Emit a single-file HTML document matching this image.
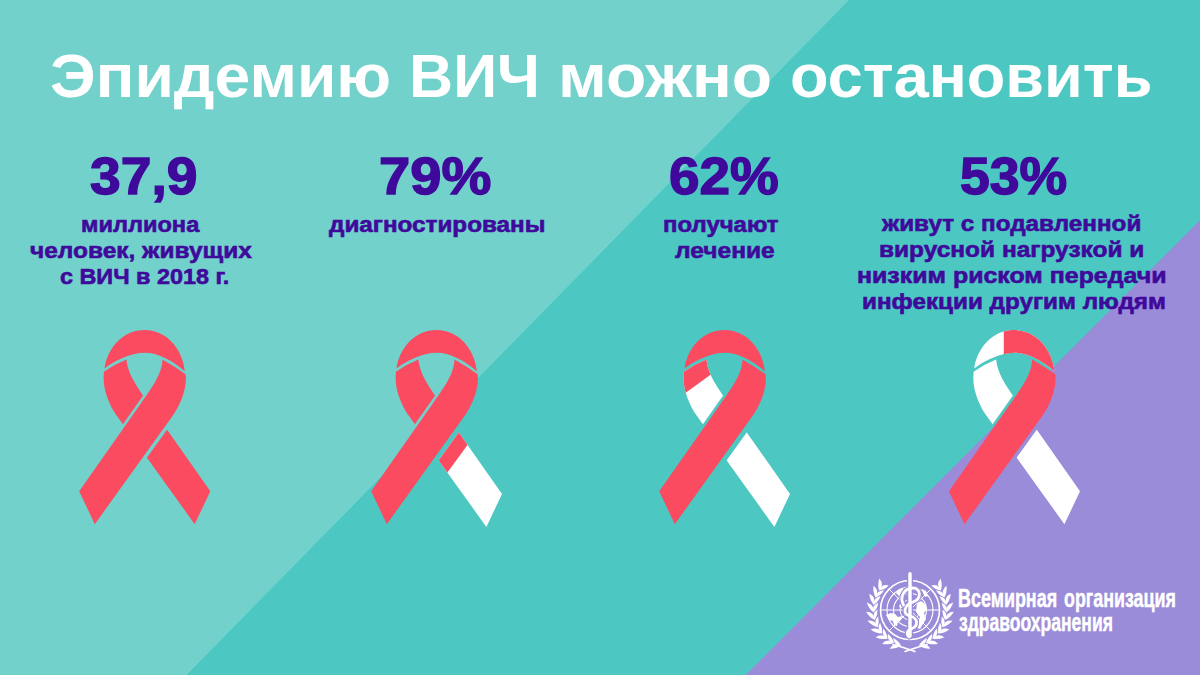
<!DOCTYPE html>
<html lang="ru">
<head>
<meta charset="utf-8">
<title>Эпидемию ВИЧ можно остановить</title>
<style>
html,body{margin:0;padding:0}
body{width:1200px;height:675px;overflow:hidden;position:relative;background:#4dc7c2;font-family:"Liberation Sans",sans-serif}
#art{position:absolute;left:0;top:0;width:1200px;height:675px;display:block}
.t{position:absolute;white-space:pre;line-height:1;font-weight:700;transform-origin:0 0;color:#3f0a9b;font-family:"Liberation Sans",sans-serif}
</style>
</head>
<body>
<svg id="art" viewBox="0 0 1200 675" width="1200" height="675">
<defs>
<path id="cap" d="M104.5,368.4 C107.5,348 122.7,330.1 144.8,330.1 C166.85,330.1 182.8,349.8 184.8,371.3 C172,360.4 158,352.8 144.8,352.8 C131,352.8 116,360 104.5,368.4 Z"/>
<path id="strand" d="M162.5,359.5 Q174.5,366.3 185.6,374.3 L185.9,378 C185.9,392 179.5,406.2 172.5,416 L94.8,524.2 L79.2,491.3 L138,407.5 C154,385 161.5,374 162.5,359.7 Z"/>
<path id="strandB" d="M163.1,359.5 Q175,364.2 185.6,371.8 L185.9,378 C185.9,392 179.5,406.2 172.5,416 L94.8,524.2 L79.2,491.3 L138,407.5 C154,385 161.5,374 163.1,359.5 Z"/>
<clipPath id="clipUp"><polygon points="48.03,530.53 220.83,285.13 0,285 0,531"/></clipPath>
<clipPath id="clipLow"><polygon points="86.13,542.03 214.72,363.52 260,362 260,543"/></clipPath>
<g id="backup" clip-path="url(#clipUp)"><use href="#strandB" transform="translate(289.5,0) scale(-1,1)"/></g>
<g id="backlow" clip-path="url(#clipLow)"><use href="#strandB" transform="translate(289.5,0) scale(-1,1)"/></g>
</defs>
<rect width="1200" height="675" fill="#4dc7c2"/>
<polygon points="0,0 848,0 185.6,675 0,675" fill="#73d1cc"/>
<line x1="848.4" y1="0" x2="186" y2="675" stroke="#86ddd8" stroke-width="1" opacity="0.7"/>
<polygon points="1200,220.3 1200,675 745.7,675" fill="#9b8cd9"/>
<!-- ribbon 1: 100% -->
<g fill="#fa4b60"><use href="#cap"/><use href="#backup"/><use href="#backlow"/><use href="#strand"/></g>
<!-- ribbon 2: 79% -->
<g transform="translate(292,0)">
  <g fill="#fa4b60"><use href="#cap"/><use href="#backup"/><use href="#strand"/></g>
  <g transform="translate(-0.3,2.7)">
    <use href="#backlow" fill="#fff"/>
    <clipPath id="c2"><polygon points="140,420 170,420 180,436.5 150,477.5 140,477"/></clipPath>
    <g clip-path="url(#c2)"><use href="#backlow" fill="#fa4b60"/></g>
  </g>
</g>
<!-- ribbon 3: 62% -->
<g transform="translate(580,0)">
  <g fill="#fa4b60"><use href="#cap"/><use href="#strand"/></g>
  <use href="#backup" fill="#fff"/>
  <clipPath id="c3"><polygon points="95,350 135,350 135,371.5 95,400.5"/></clipPath>
  <g clip-path="url(#c3)"><use href="#backup" fill="#fa4b60"/></g>
  <g transform="translate(-0.3,2.7)"><use href="#backlow" fill="#fff"/></g>
</g>
<!-- ribbon 4: 53% -->
<g transform="translate(869.7,0)">
  <use href="#cap" fill="#fff"/>
  <clipPath id="c4"><rect x="134.1" y="320" width="60" height="60"/></clipPath>
  <use href="#cap" fill="#fa4b60" clip-path="url(#c4)"/>
  <use href="#backup" fill="#fff"/><use href="#backlow" fill="#fff"/>
  <use href="#strand" fill="#fa4b60"/>
</g>
<!--WHO-->
<g id="who" fill="none" stroke="#fff">
<circle cx="910.0" cy="610.0" r="29.5" stroke-width="1.6"/>
<circle cx="910.0" cy="610.0" r="23" stroke-width="1.1"/>
<circle cx="910.0" cy="610.0" r="16.5" stroke-width="1.1"/>
<circle cx="910.0" cy="610.0" r="10" stroke-width="1.0"/>
<line x1="880.5" y1="610.0" x2="939.5" y2="610.0" stroke-width="1.0"/>
<line x1="889.1" y1="589.1" x2="930.9" y2="630.9" stroke-width="1.0"/>
<line x1="910.0" y1="580.5" x2="910.0" y2="639.5" stroke-width="1.0"/>
<line x1="930.9" y1="589.1" x2="889.1" y2="630.9" stroke-width="1.0"/>
<g fill="#fff" stroke="none">
<path d="M886.0,615.0 L891.0,613.0 L895.0,614.0 L898.0,617.0 L902.0,616.0 L901.0,620.0 L898.0,622.0 L897.0,626.0 L894.0,625.0 L893.0,621.0 L889.0,620.0 Z"/>
<path d="M917.0,603.0 L921.0,601.0 L925.0,604.0 L927.0,609.0 L924.0,613.0 L926.0,619.0 L923.0,624.0 L920.0,629.0 L917.0,628.0 L918.0,622.0 L920.0,617.0 L916.0,612.0 Z"/>
<path d="M898.0,590.0 L902.0,588.0 L905.0,591.0 L903.0,595.0 L899.0,596.0 L896.0,593.0 Z"/>
<path d="M922.0,589.0 L926.0,591.0 L928.0,596.0 L925.0,597.0 L923.0,593.0 Z"/>
<path d="M900.0,604.0 L904.0,603.0 L905.0,607.0 L902.0,608.0 L899.0,607.0 Z"/>
</g>
<path d="M910.0,573.8 L910.0,636.0" stroke="#9b8cd9" stroke-width="6" stroke-linecap="round"/>
<path d="M903.5,605.0 C899.0,596.0 905.0,588.0 913.0,588.0 C921.0,588.0 922.0,599.0 913.0,602.0 C904.0,605.0 902.0,614.0 910.0,616.0 C918.0,618.0 919.0,626.0 911.0,629.0 C907.0,630.5 906.0,634.0 909.0,637.0" stroke="#9b8cd9" stroke-width="5.2" stroke-linecap="round"/>
<path d="M910.0,573.8 L910.0,636.0" stroke="#fff" stroke-width="3.4" stroke-linecap="round"/>
<path d="M903.5,605.0 C899.0,596.0 905.0,588.0 913.0,588.0 C921.0,588.0 922.0,599.0 913.0,602.0 C904.0,605.0 902.0,614.0 910.0,616.0 C918.0,618.0 919.0,626.0 911.0,629.0 C907.0,630.5 906.0,634.0 909.0,637.0" stroke="#fff" stroke-width="2.8" stroke-linecap="round"/>
<g fill="#fff" stroke="none">
<path d="M901.1,645.5 Q893.9,642.0 889.6,648.8 Q895.9,649.0 901.1,645.5 Z"/>
<path d="M901.1,645.5 Q893.7,645.3 893.2,637.9 Q898.4,640.4 901.1,645.5 Z"/>
<path d="M894.0,642.9 Q887.6,637.9 882.0,643.7 Q888.1,645.2 894.0,642.9 Z"/>
<path d="M894.0,642.9 Q886.7,641.1 887.8,633.8 Q892.3,637.4 894.0,642.9 Z"/>
<path d="M887.5,638.8 Q882.3,632.7 875.6,637.2 Q881.3,639.9 887.5,638.8 Z"/>
<path d="M887.5,638.8 Q880.8,635.6 883.3,628.6 Q887.0,633.1 887.5,638.8 Z"/>
<path d="M882.0,633.5 Q878.2,626.4 870.7,629.4 Q875.7,633.2 882.0,633.5 Z"/>
<path d="M882.0,633.5 Q876.1,629.0 880.1,622.7 Q882.7,627.8 882.0,633.5 Z"/>
<path d="M877.7,627.2 Q875.5,619.4 867.5,620.8 Q871.6,625.6 877.7,627.2 Z"/>
<path d="M877.7,627.2 Q872.9,621.5 878.1,616.2 Q879.6,621.7 877.7,627.2 Z"/>
<path d="M874.8,620.1 Q874.3,612.0 866.2,611.8 Q869.2,617.3 874.8,620.1 Z"/>
<path d="M874.8,620.1 Q871.3,613.5 877.5,609.4 Q877.8,615.2 874.8,620.1 Z"/>
<path d="M873.5,612.6 Q874.6,604.6 866.8,602.6 Q868.6,608.6 873.5,612.6 Z"/>
<path d="M873.5,612.6 Q871.4,605.4 878.3,602.7 Q877.5,608.4 873.5,612.6 Z"/>
<path d="M873.8,604.9 Q876.5,597.3 869.3,593.8 Q869.8,600.1 873.8,604.9 Z"/>
<path d="M873.8,604.9 Q873.2,597.5 880.5,596.2 Q878.5,601.6 873.8,604.9 Z"/>
<path d="M875.6,597.5 Q879.9,590.6 873.5,585.7 Q872.7,591.9 875.6,597.5 Z"/>
<path d="M875.6,597.5 Q876.6,590.1 884.0,590.4 Q880.9,595.3 875.6,597.5 Z"/>
<path d="M879.0,590.6 Q884.6,584.8 879.4,578.6 Q877.3,584.5 879.0,590.6 Z"/>
<path d="M879.0,590.6 Q881.5,583.6 888.7,585.4 Q884.6,589.6 879.0,590.6 Z"/>
<path d="M918.9,645.5 Q926.1,642.0 930.4,648.8 Q924.1,649.0 918.9,645.5 Z"/>
<path d="M918.9,645.5 Q926.3,645.3 926.8,637.9 Q921.6,640.4 918.9,645.5 Z"/>
<path d="M926.0,642.9 Q932.4,637.9 938.0,643.7 Q931.9,645.2 926.0,642.9 Z"/>
<path d="M926.0,642.9 Q933.3,641.1 932.2,633.8 Q927.7,637.4 926.0,642.9 Z"/>
<path d="M932.5,638.8 Q937.7,632.7 944.4,637.2 Q938.7,639.9 932.5,638.8 Z"/>
<path d="M932.5,638.8 Q939.2,635.6 936.7,628.6 Q933.0,633.1 932.5,638.8 Z"/>
<path d="M938.0,633.5 Q941.8,626.4 949.3,629.4 Q944.3,633.2 938.0,633.5 Z"/>
<path d="M938.0,633.5 Q943.9,629.0 939.9,622.7 Q937.3,627.8 938.0,633.5 Z"/>
<path d="M942.3,627.2 Q944.5,619.4 952.5,620.8 Q948.4,625.6 942.3,627.2 Z"/>
<path d="M942.3,627.2 Q947.1,621.5 941.9,616.2 Q940.4,621.7 942.3,627.2 Z"/>
<path d="M945.2,620.1 Q945.7,612.0 953.8,611.8 Q950.8,617.3 945.2,620.1 Z"/>
<path d="M945.2,620.1 Q948.7,613.5 942.5,609.4 Q942.2,615.2 945.2,620.1 Z"/>
<path d="M946.5,612.6 Q945.4,604.6 953.2,602.6 Q951.4,608.6 946.5,612.6 Z"/>
<path d="M946.5,612.6 Q948.6,605.4 941.7,602.7 Q942.5,608.4 946.5,612.6 Z"/>
<path d="M946.2,604.9 Q943.5,597.3 950.7,593.8 Q950.2,600.1 946.2,604.9 Z"/>
<path d="M946.2,604.9 Q946.8,597.5 939.5,596.2 Q941.5,601.6 946.2,604.9 Z"/>
<path d="M944.4,597.5 Q940.1,590.6 946.5,585.7 Q947.3,591.9 944.4,597.5 Z"/>
<path d="M944.4,597.5 Q943.4,590.1 936.0,590.4 Q939.1,595.3 944.4,597.5 Z"/>
<path d="M941.0,590.6 Q935.4,584.8 940.6,578.6 Q942.7,584.5 941.0,590.6 Z"/>
<path d="M941.0,590.6 Q938.5,583.6 931.3,585.4 Q935.4,589.6 941.0,590.6 Z"/>
</g>
<path d="M893.0,644.5 Q904.0,647.5 915.0,651.5 M927.0,644.5 Q916.0,647.5 905.0,651.5" stroke-width="1.6" stroke-linecap="round"/>
</g>
<!--/WHO-->
</svg>

<div class="t" style="left:50.38px;top:45.98px;font-size:60.5px;transform:scaleX(1.0607);color:#fff">Эпидемию</div>
<div class="t" style="left:408.96px;top:45.98px;font-size:60.5px;transform:scaleX(1.0102);color:#fff">ВИЧ</div>
<div class="t" style="left:558.14px;top:45.98px;font-size:60.5px;transform:scaleX(1.0895);color:#fff">можно</div>
<div class="t" style="left:790.42px;top:45.98px;font-size:60.5px;transform:scaleX(1.0423);color:#fff">остановить</div>
<div class="t" style="left:90.17px;top:150.85px;font-size:51px;transform:scaleX(1.0825);-webkit-text-stroke:1.4px #3f0a9b">37,9</div>
<div class="t" style="left:81.43px;top:214.20px;font-size:22px;transform:scaleX(1.0727);-webkit-text-stroke:0.6px #3f0a9b">миллиона</div>
<div class="t" style="left:30.14px;top:239.70px;font-size:22px;transform:scaleX(1.1118);-webkit-text-stroke:0.6px #3f0a9b">человек, живущих</div>
<div class="t" style="left:60.19px;top:265.90px;font-size:22px;transform:scaleX(1.0621);-webkit-text-stroke:0.6px #3f0a9b">с ВИЧ в 2018 г.</div>
<div class="t" style="left:379.40px;top:150.85px;font-size:51px;transform:scaleX(1.1000);-webkit-text-stroke:1.4px #3f0a9b">79%</div>
<div class="t" style="left:328.75px;top:214.20px;font-size:22px;transform:scaleX(1.1026);-webkit-text-stroke:0.6px #3f0a9b">диагностированы</div>
<div class="t" style="left:669.42px;top:150.85px;font-size:51px;transform:scaleX(1.0750);-webkit-text-stroke:1.4px #3f0a9b">62%</div>
<div class="t" style="left:663.41px;top:214.20px;font-size:22px;transform:scaleX(1.0881);-webkit-text-stroke:0.6px #3f0a9b">получают</div>
<div class="t" style="left:674.50px;top:239.70px;font-size:22px;transform:scaleX(1.1152);-webkit-text-stroke:0.6px #3f0a9b">лечение</div>
<div class="t" style="left:960.45px;top:150.85px;font-size:51px;transform:scaleX(1.0500);-webkit-text-stroke:1.4px #3f0a9b">53%</div>
<div class="t" style="left:882.00px;top:212.90px;font-size:22px;transform:scaleX(1.1026);-webkit-text-stroke:0.6px #3f0a9b">живут с подавленной</div>
<div class="t" style="left:879.39px;top:238.50px;font-size:22px;transform:scaleX(1.1123);-webkit-text-stroke:0.6px #3f0a9b">вирусной нагрузкой и</div>
<div class="t" style="left:856.87px;top:264.60px;font-size:22px;transform:scaleX(1.1328);-webkit-text-stroke:0.6px #3f0a9b">низким риском передачи</div>
<div class="t" style="left:862.30px;top:290.70px;font-size:22px;transform:scaleX(1.1026);-webkit-text-stroke:0.6px #3f0a9b">инфекции другим людям</div>
<div class="t" style="left:958.31px;top:585.20px;font-size:26px;transform:scaleX(0.6894);color:#fff;-webkit-text-stroke:0.5px #fff">Всемирная</div>
<div class="t" style="left:1063.51px;top:585.20px;font-size:26px;transform:scaleX(0.6862);color:#fff;-webkit-text-stroke:0.5px #fff">организация</div>
<div class="t" style="left:959.00px;top:609.40px;font-size:26px;transform:scaleX(0.6740);color:#fff;-webkit-text-stroke:0.5px #fff">здравоохранения</div>
</body>
</html>
